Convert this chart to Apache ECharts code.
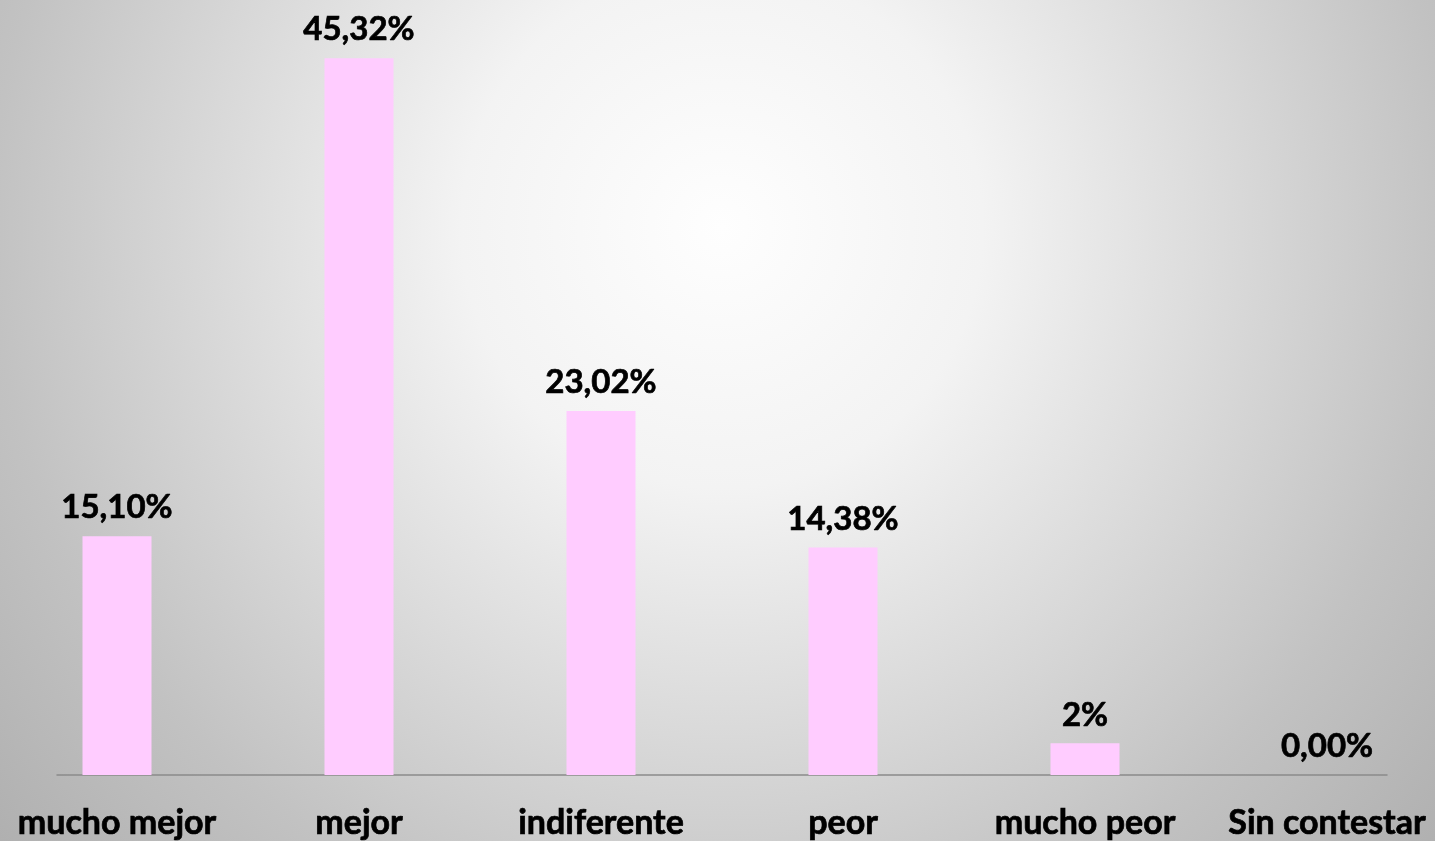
<!DOCTYPE html>
<html lang="es">
<head>
    <meta charset="UTF-8">
    <title>Valoración</title>
    <script src="https://cdn.jsdelivr.net/npm/echarts@6.0.0/dist/echarts.min.js"></script>
    <style>
        html, body {
            margin: 0;
            padding: 0;
            overflow: hidden;
            background: #b8b8b8;
        }
        /* el gráfico es algo más ancho que la ventana, como en el original */
        #chart {
            position: absolute;
            left: -4px;
            top: 0;
            width: 1452px;
            height: 841px;
        }
    </style>
</head>
<body>
    <div id="chart"></div>
    <script>
        // datos del gráfico
        const categorias = ['mucho mejor', 'mejor', 'indiferente', 'peor', 'mucho peor', 'Sin contestar'];
        const porcentajes = [15.10, 45.32, 23.02, 14.38, 2, 0];
        const etiquetas = ['15,10%', '45,32%', '23,02%', '14,38%', '2%', '0,00%'];

        const fuente = 'Lato, "Open Sans", sans-serif';
        const chart = echarts.init(document.getElementById('chart'));

        const option = {
            backgroundColor: new echarts.graphic.RadialGradient(0.5, 0.27, 1.24, [
                { offset: 0, color: '#fefefe' },
                { offset: 0.25, color: '#f3f3f3' },
                { offset: 0.7, color: '#c2c2c2' },
                { offset: 1, color: '#a8a8a8' }
            ]),
            animation: false,
            grid: [
                // barras
                { left: 0, right: 0, top: 0, bottom: 66 },
                // solo la línea del eje
                { left: 61, right: 61, top: 0, bottom: 66 }
            ],
            xAxis: [
                {
                    type: 'category',
                    gridIndex: 0,
                    data: categorias,
                    axisLine: { show: false },
                    axisTick: { show: false },
                    axisLabel: {
                        color: '#000',
                        fontFamily: fuente,
                        fontWeight: 'bold',
                        fontSize: 34,
                        margin: 31,
                        interval: 0,
                        textBorderColor: '#000',
                        textBorderWidth: 0.7
                    }
                },
                {
                    type: 'category',
                    gridIndex: 1,
                    data: categorias,
                    axisLine: { show: true, lineStyle: { color: '#8a8a8a', width: 1.5 } },
                    axisTick: { show: false },
                    axisLabel: { show: false }
                }
            ],
            yAxis: [
                { type: 'value', gridIndex: 0, min: 0, max: 49, show: false },
                { type: 'value', gridIndex: 1, min: 0, max: 49, show: false }
            ],
            series: [{
                type: 'bar',
                xAxisIndex: 0,
                yAxisIndex: 0,
                data: porcentajes,
                barWidth: 69,
                itemStyle: { color: '#ffccff' },
                label: {
                    show: true,
                    position: 'top',
                    distance: 12,
                    color: '#000',
                    fontFamily: fuente,
                    fontWeight: 'bold',
                    fontSize: 33,
                    textBorderColor: '#000',
                    textBorderWidth: 0.7,
                    formatter: p => etiquetas[p.dataIndex]
                }
            }]
        };

        chart.setOption(option);
    </script>
</body>
</html>
